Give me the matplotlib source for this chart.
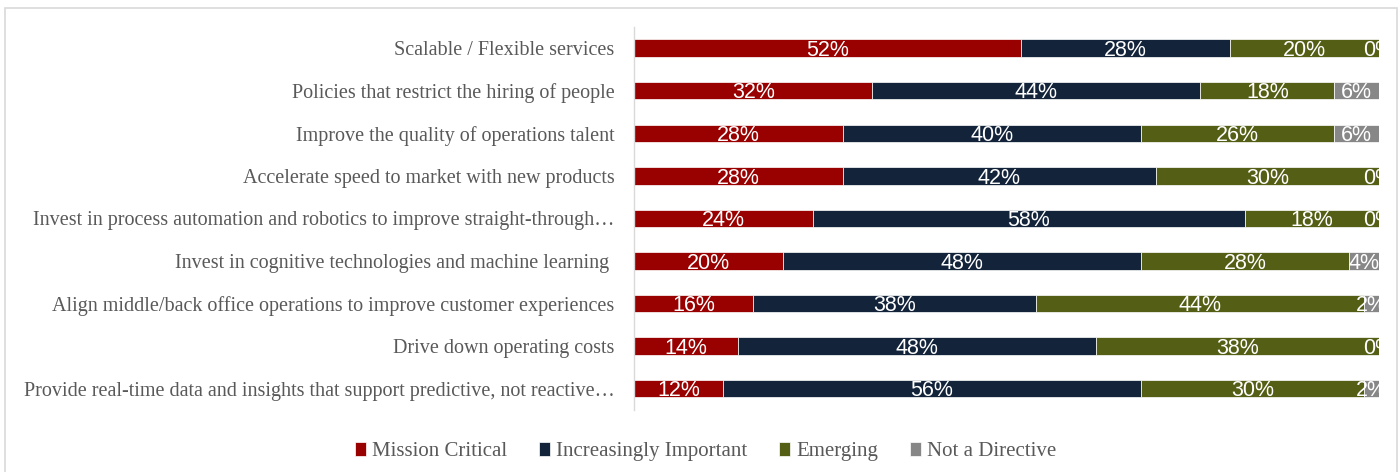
import matplotlib
matplotlib.use("Agg")
import matplotlib.pyplot as plt
from matplotlib.patches import Rectangle
import numpy as np

categories = [
    "Scalable / Flexible services",
    "Policies that restrict the hiring of people",
    "Improve the quality of operations talent",
    "Accelerate speed to market with new products",
    "Invest in process automation and robotics to improve straight-through\u2026",
    "Invest in cognitive technologies and machine learning ",
    "Align middle/back office operations to improve customer experiences",
    "Drive down operating costs",
    "Provide real-time data and insights that support predictive, not reactive\u2026",
]
series_names = ["Mission Critical", "Increasingly Important", "Emerging", "Not a Directive"]
mission_critical = [52, 32, 28, 28, 24, 20, 16, 14, 12]
increasingly_important = [28, 44, 40, 42, 58, 48, 38, 48, 56]
emerging = [20, 18, 26, 30, 18, 28, 44, 38, 30]
not_a_directive = [0, 6, 6, 0, 0, 4, 2, 0, 2]

colors = ["#990000", "#12233A", "#545E14", "#878787"]

fig = plt.figure(figsize=(14, 4.72), dpi=100)
ax = fig.add_axes([0.4529, 0.1314, 0.985 - 0.4529, 0.943 - 0.1314])

# chart frame
fig.patches.append(Rectangle((5 / 1400, -0.05), (1397 - 5) / 1400, 1 - 8 / 472 + 0.05,
                             transform=fig.transFigure, fill=False,
                             edgecolor="#d9d9d9", linewidth=1.2))

y = np.arange(len(categories))
left = np.zeros(len(categories))
all_series = [mission_critical, increasingly_important, emerging, not_a_directive]
labels = []
for name, vals, col in zip(series_names, all_series, colors):
    vals = np.array(vals, dtype=float)
    ax.barh(y, vals, left=left, height=0.41, color=col, edgecolor="white",
            linewidth=0.5, label=name)
    for yi, l, v in zip(y, left, vals):
        labels.append((l + v / 2, yi, v))
    left += vals

# value labels on top of all segments
for xc, yi, v in labels:
    t = ax.text(xc, yi + 0.18, f"{int(v)}%", ha="center", va="baseline",
                color="white", fontsize=15.5, family="Liberation Sans", zorder=5)
    t.set_clip_on(True)

ax.set_xlim(0, 100)
ax.set_ylim(len(categories) - 0.5, -0.5)
ax.set_yticks(y)
ax.set_yticklabels(categories, family="Liberation Serif", fontsize=14.5, color="#595959")
ax.tick_params(axis="y", length=0, pad=14)
ax.set_xticks([])
for s in ["top", "right", "bottom"]:
    ax.spines[s].set_visible(False)
ax.spines["left"].set_color("#d9d9d9")
ax.spines["left"].set_linewidth(1.0)

fig.legend(loc="center", bbox_to_anchor=(0.504, 0.043), ncol=4, frameon=False,
           prop={"family": "Liberation Serif", "size": 15},
           labelcolor="#595959", handlelength=0.55, handleheight=0.7,
           handletextpad=0.3, columnspacing=1.5)

fig.savefig("out.png", dpi=100)
